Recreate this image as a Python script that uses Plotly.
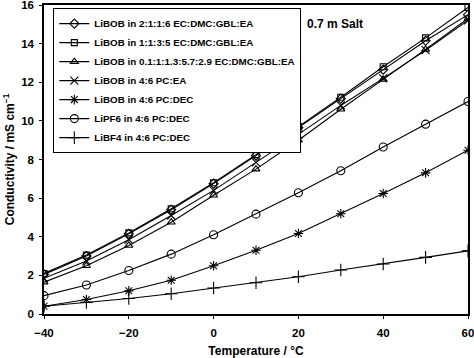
import plotly.graph_objects as go

temps = [-40, -30, -20, -10, 0, 10, 20, 30, 40, 50, 60]

names = [
    "LiBOB in 2:1:1:6 EC:DMC:GBL:EA",
    "LiBOB in 1:1:3:5 EC:DMC:GBL:EA",
    "LiBOB in 0.1:1:1.3:5.7:2.9 EC:DMC:GBL:EA",
    "LiBOB in 4:6 PC:EA",
    "LiBOB in 4:6 PC:DEC",
    "LiPF6 in 4:6 PC:DEC",
    "LiBF4 in 4:6 PC:DEC",
]

libob_2116 = [2.05, 3.0, 4.15, 5.4, 6.75, 8.2, 9.65, 11.15, 12.65, 14.15, 15.5]
libob_1135 = [2.1, 3.05, 4.2, 5.45, 6.8, 8.25, 9.7, 11.22, 12.8, 14.3, 15.87]
libob_5comp = [1.65, 2.5, 3.55, 4.75, 6.15, 7.5, 9.0, 10.6, 12.15, 13.7, 15.3]
libob_pcea = [1.85, 2.75, 3.85, 5.1, 6.4, 7.85, 9.3, 10.8, 12.2, 13.66, 15.2]
libob_pcdec = [0.4, 0.75, 1.2, 1.75, 2.5, 3.3, 4.17, 5.19, 6.24, 7.31, 8.48]
lipf6_pcdec = [0.95, 1.5, 2.25, 3.1, 4.1, 5.17, 6.28, 7.42, 8.65, 9.83, 11.0]
libf4_pcdec = [0.4, 0.6, 0.8, 1.05, 1.35, 1.62, 1.93, 2.28, 2.59, 2.93, 3.27]

series = [libob_2116, libob_1135, libob_5comp, libob_pcea, libob_pcdec, lipf6_pcdec, libf4_pcdec]
symbols = ["diamond-open", "square-open", "triangle-up-open", "x-thin-open",
           "asterisk-open", "circle-open", "cross-thin-open"]
sizes = [7, 6, 7, 8, 8, 8, 9]

fig = go.Figure()
for name, vals, sym, sz in zip(names, series, symbols, sizes):
    fig.add_trace(go.Scatter(
        x=temps, y=vals, name=name, mode="lines+markers",
        line=dict(color="black", width=1.1),
        marker=dict(symbol=sym, size=sz, color="black",
                    line=dict(color="black", width=1.1)),
    ))

fig.add_annotation(x=21.5, y=15.0, text="<b>0.7 m Salt</b>", showarrow=False,
                   xanchor="left", yanchor="middle",
                   font=dict(size=12, color="black"))

font_family = "Liberation Sans, Arial, sans-serif"
fig.update_layout(
    width=474, height=358,
    margin=dict(l=44, r=6, t=5, b=44, autoexpand=False),
    paper_bgcolor="white", plot_bgcolor="white",
    font=dict(family=font_family, size=11, color="black"),
    showlegend=True,
    legend=dict(x=0.022, y=0.99, xanchor="left", yanchor="top",
                bordercolor="black", borderwidth=1, bgcolor="white",
                font=dict(size=9.8, weight="bold"), tracegroupgap=0,
                itemwidth=30),
    xaxis=dict(range=[-40, 60], tickvals=[-40, -20, 0, 20, 40, 60],
               showgrid=False, zeroline=False, showline=True, automargin=False,
               linecolor="black", linewidth=1.5, mirror=True,
               ticks="outside", ticklen=3, tickcolor="black",
               ticklabelstandoff=4, ticklabeloverflow="allow",
               tickfont=dict(size=11.5, weight="bold"),
               title=dict(text="Temperature / °C",
                          font=dict(size=12, weight="bold"), standoff=12)),
    yaxis=dict(range=[0, 16], tickvals=[0, 2, 4, 6, 8, 10, 12, 14, 16],
               showgrid=False, zeroline=False, showline=True, automargin=False,
               linecolor="black", linewidth=1.5, mirror=True,
               ticks="outside", ticklen=3, tickcolor="black",
               ticklabelstandoff=3, ticklabeloverflow="allow",
               tickfont=dict(size=11.5, weight="bold"),
               title=dict(text="Conductivity / mS cm<sup>−1</sup>",
                          font=dict(size=12, weight="bold"), standoff=4)),
)

fig.write_html("out.html", config={"displayModeBar": False},
               post_script="document.body.style.margin='0';document.body.style.overflow='hidden';")
